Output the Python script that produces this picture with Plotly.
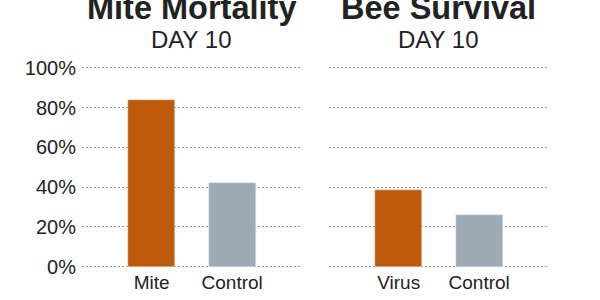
import plotly.graph_objects as go

# Data
mite_categories = ["Mite<br>Treatment", "Control"]
mite_values = [83.8, 42.0]
bee_categories = ["Virus<br>Treatment", "Control"]
bee_values = [38.5, 25.8]
bar_colors = ["#bf590b", "#9eaab3"]
y_tickvals = [0, 20, 40, 60, 80, 100]
y_ticktext = ["0%", "20%", "40%", "60%", "80%", "100%"]
panel_titles = ["Mite Mortality", "Bee Survival"]
panel_subtitles = ["DAY 10", "DAY 10"]

fig = go.Figure()
fig.add_trace(go.Bar(x=[0, 1], y=mite_values, marker_color=bar_colors,
                     width=0.58, xaxis="x", yaxis="y", showlegend=False))
fig.add_trace(go.Bar(x=[0, 1], y=bee_values, marker_color=bar_colors,
                     width=0.58, xaxis="x2", yaxis="y2", showlegend=False))

font_main = "Liberation Sans, Arial, sans-serif"
xr = [-0.865, 1.855]
ydom = [1 - 268.5 / 300, 1 - 66.0 / 300]
grid = dict(showgrid=True, gridcolor="#9a9a9a", griddash="2px,2px", gridwidth=1,
            zeroline=False, range=[-1, 101], tickvals=y_tickvals, domain=ydom,
            showline=False, ticks="", automargin=False)

fig.update_layout(
    width=600, height=300,
    margin=dict(l=0, r=0, t=0, b=0),
    paper_bgcolor="white", plot_bgcolor="white",
    font=dict(family=font_main, color="#222222"),
    bargap=0,
    xaxis=dict(domain=[82 / 600, 301 / 600], range=xr, tickvals=[0, 1],
               ticktext=mite_categories, showgrid=False, zeroline=False,
               showline=False, ticks="", automargin=False, ticklabelstandoff=0,
               tickfont=dict(size=19, color="#222")),
    xaxis2=dict(domain=[329 / 600, 548 / 600], range=xr, tickvals=[0, 1],
                ticktext=bee_categories, showgrid=False, zeroline=False,
                showline=False, ticks="", automargin=False, ticklabelstandoff=0,
                tickfont=dict(size=19, color="#222"), anchor="y2"),
    yaxis=dict(**grid, ticktext=y_ticktext, anchor="x", ticklabelstandoff=5,
               tickfont=dict(size=20, color="#222")),
    yaxis2=dict(**grid, showticklabels=False, anchor="x2"),
)

centers = [(82 + 301) / 2 / 600, (329 + 548) / 2 / 600]
for c, t, s in zip(centers, panel_titles, panel_subtitles):
    fig.add_annotation(x=c, y=1 - 28 / 300, xref="paper", yref="paper",
                       text="<b>%s</b>" % t, showarrow=False,
                       xanchor="center", yanchor="bottom",
                       font=dict(size=32.5, family=font_main, color="#222"))
    fig.add_annotation(x=c, y=1 - 55 / 300, xref="paper", yref="paper",
                       text=s, showarrow=False, xanchor="center", yanchor="bottom",
                       font=dict(size=24, family=font_main, color="#222"))

fig.write_html("out.html")
